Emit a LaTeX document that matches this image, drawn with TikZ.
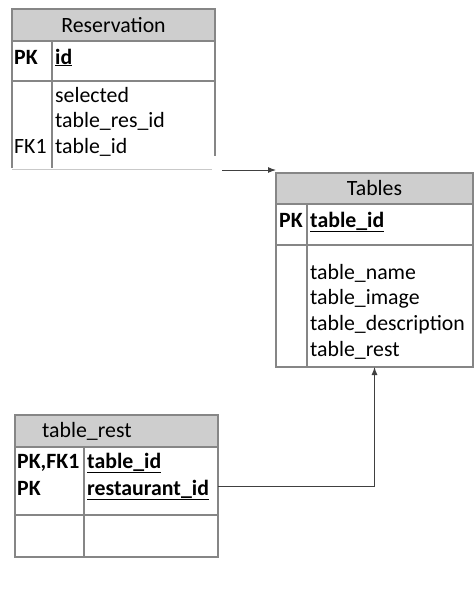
\documentclass[tikz,border=0pt]{standalone}
\usepackage{fontspec}
\setmainfont{Carlito}
\usetikzlibrary{arrows.meta}
\definecolor{linegray}{HTML}{868686}
\definecolor{hdrgray}{HTML}{CECECE}
\newcommand{\erfs}{\fontsize{21.8}{26}\selectfont}
\begin{document}
\begin{tikzpicture}[x=1pt,y=-1pt,
  box/.style={draw=linegray, line width=1.1pt, anchor=north west, inner sep=0, outer sep=0},
  hdr/.style={box, fill=hdrgray},
  edge/.style={draw=linegray, line width=1.1pt},
  txt/.style={anchor=base west, inner sep=0, font=\erfs},
  ctxt/.style={anchor=base, inner sep=0, font=\erfs},
  conn/.style={draw=black!75, line width=1pt},
  arr/.style={conn, -{Latex[length=8pt,width=6pt]}}]
\useasboundingbox (0,0) rectangle (474,592);
\fill[white] (0,0) rectangle (474,592);

% ---- Reservation ----
\node[hdr, minimum width=203, minimum height=32] (reshdr) at (12,9) {};
\node[box, minimum width=203, minimum height=40] (respk) at (12,41) {};
\draw[edge] (12,81) -- (12,168);
\draw[edge] (52,41) -- (52,168);
\draw[edge] (215,81) -- (215,156);
\draw[draw=linegray!45, line width=1pt] (12,169) -- (212,169);
\node[ctxt] (restitle) at (113.5,32) {Reservation};
\node[txt] (respklbl) at (14,64) {\textbf{PK}};
\node[txt] (resid) at (55,64) {\textbf{\underline{id}}};
\node[txt] (ressel) at (55,102) {selected};
\node[txt] (resrid) at (55,127.5) {table\_res\_id};
\node[txt] (restid) at (55,153) {table\_id};
\node[txt] (resfk) at (14,153) {FK1};

% ---- Tables ----
\node[hdr, minimum width=197, minimum height=31] (thdr) at (276,173) {};
\node[box, minimum width=197, minimum height=41] (tpk) at (276,204) {};
\node[box, minimum width=197, minimum height=122] (tbody) at (276,245) {};
\draw[edge] (307,204) -- (307,367);
\node[ctxt] (ttitle) at (374.5,195) {Tables};
\node[txt] (tpklbl) at (279,227) {\textbf{PK}};
\node[txt] (ttid) at (310,227) {\textbf{\underline{table\_id}}};
\node[txt] (tname) at (310,279) {table\_name};
\node[txt] (timage) at (310,304.5) {table\_image};
\node[txt] (tdesc) at (310,330.5) {table\_description};
\node[txt] (trest) at (310,356.5) {table\_rest};

% ---- table_rest ----
\node[hdr, minimum width=203, minimum height=32] (trhdr) at (15,415) {};
\node[box, minimum width=203, minimum height=68] (trpk) at (15,447) {};
\node[box, minimum width=203, minimum height=42] (trbot) at (15,515) {};
\draw[edge] (84,447) -- (84,557);
\node[txt] (trtitle) at (42,437) {table\_rest};
\node[txt] (trpk1) at (17,468) {\textbf{PK,FK1}};
\node[txt] (trpk2) at (17,495) {\textbf{PK}};
\node[txt] (trtid) at (87,468) {\textbf{\underline{table\_id}}};
\node[txt] (trrid) at (87,495) {\textbf{\underline{restaurant\_id}}};

% ---- connectors ----
\coordinate (c0) at (222,170);
\draw[arr] (c0) -- (c0 -| thdr.west);
\coordinate (c1) at (218,486);
\draw[arr] (c1) -| (tbody.south);
\end{tikzpicture}
\end{document}
